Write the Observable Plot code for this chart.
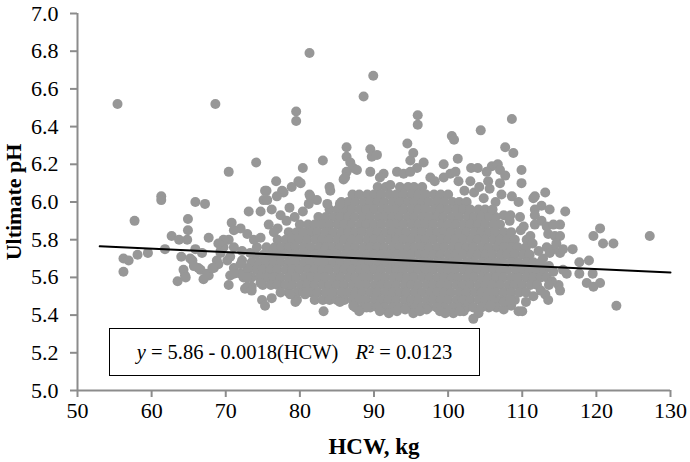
<!DOCTYPE html>
<html>
<head>
<meta charset="utf-8">
<script src="https://cdn.jsdelivr.net/npm/d3@7"></script>
<script src="https://cdn.jsdelivr.net/npm/@observablehq/plot@0.6"></script>
<style>
  body { margin: 0; background: #fff; }
  #wrap { position: relative; width: 690px; height: 462px; }
  #wrap svg text { font-family: "Liberation Serif", "Times New Roman", serif; }
  #eq {
    position: absolute; left: 109px; top: 328px; width: 371px; height: 48px;
    box-sizing: border-box; border: 1.5px solid #000; background: #fff;
    font-family: "Liberation Serif", "Times New Roman", serif; font-size: 20.5px;
    display: flex; align-items: center; justify-content: center; color: #000;
  }
  #eq .gap { display: inline-block; width: 17px; }
</style>
</head>
<body>
<div id="wrap"></div>
<script>
// Axis ticks
const hcwTicks = [50, 60, 70, 80, 90, 100, 110, 120, 130];
const phTicks = [5.0, 5.2, 5.4, 5.6, 5.8, 6.0, 6.2, 6.4, 6.6, 6.8, 7.0];

// Regression shown on the chart: y = 5.86 - 0.0018(HCW)
const fitIntercept = 5.86;
const fitSlope = -0.0018;
const fitHcw = [53, 130];
const eqText = "y = 5.86 - 0.0018(HCW)";
const r2Text = "R² = 0.0123";

// Dense core of the cloud, read row by row: [pH, HCW values...]
const coreRows = [
  [6.08, 90.5, 91.6, 93.5, 94.6, 95.4, 96.5],
  [6.04, 87.1, 88.0, 89.1, 90.0, 91.0, 92.1, 93.0, 94.0, 95.1, 96.0, 97.0, 98.1, 99.0, 100.0],
  [6.00, 85.6, 86.5, 87.5, 88.6, 89.5, 90.5, 91.4, 92.5, 93.5, 94.6, 95.5, 96.5, 97.4, 98.5, 99.5, 100.6, 101.5, 102.5],
  [5.96, 84.0, 85.1, 86.0, 87.0, 88.1, 89.0, 90.0, 91.1, 92.0, 93.0, 94.0, 95.1, 96.0, 97.0, 98.1, 99.0, 100.0, 101.1, 102.0, 103.0, 104.1, 105.0],
  [5.92, 82.5, 83.5, 84.6, 85.5, 86.5, 87.4, 88.5, 89.5, 90.6, 91.5, 92.5, 93.4, 94.5, 95.5, 96.6, 97.5, 98.5, 99.4, 100.5, 101.5, 102.6, 103.5, 104.5, 105.5, 106.4],
  [5.88, 80.0, 81.1, 82.0, 83.0, 84.0, 85.1, 86.0, 87.0, 88.1, 89.0, 90.0, 91.0, 92.1, 93.0, 94.0, 95.1, 96.0, 97.0, 98.0, 99.1, 100.0, 101.0, 102.1, 103.0, 104.0, 105.0, 106.1, 107.0],
  [5.84, 78.5, 79.6, 80.5, 81.5, 82.4, 83.5, 84.5, 85.6, 86.5, 87.5, 88.4, 89.5, 90.5, 91.6, 92.5, 93.5, 94.4, 95.5, 96.5, 97.6, 98.5, 99.5, 100.4, 101.5, 102.5, 103.6, 104.5, 105.5, 106.4, 107.5, 108.5],
  [5.80, 77.0, 78.1, 79.0, 80.0, 81.0, 82.1, 83.0, 84.0, 85.1, 86.0, 87.0, 88.0, 89.1, 90.0, 91.0, 92.1, 93.0, 94.0, 95.0, 96.1, 97.0, 98.0, 99.1, 100.0, 101.0, 102.0, 103.1, 104.0, 105.0, 106.1, 107.0, 108.0, 109.0],
  [5.76, 75.5, 76.6, 77.5, 78.5, 79.4, 80.5, 81.5, 82.6, 83.5, 84.5, 85.4, 86.5, 87.5, 88.6, 89.5, 90.5, 91.4, 92.5, 93.5, 94.6, 95.5, 96.5, 97.4, 98.5, 99.5, 100.6, 101.5, 102.5, 103.4, 104.5, 105.5, 106.6, 107.5, 108.5, 109.4, 110.5],
  [5.72, 74.0, 75.1, 76.0, 77.0, 78.0, 79.1, 80.0, 81.0, 82.1, 83.0, 84.0, 85.0, 86.1, 87.0, 88.0, 89.1, 90.0, 91.0, 92.0, 93.1, 94.0, 95.0, 96.1, 97.0, 98.0, 99.0, 100.1, 101.0, 102.0, 103.1, 104.0, 105.0, 106.0, 107.1, 108.0, 109.0, 110.1, 111.0],
  [5.68, 73.5, 74.6, 75.5, 76.5, 77.4, 78.5, 79.5, 80.6, 81.5, 82.5, 83.4, 84.5, 85.5, 86.6, 87.5, 88.5, 89.4, 90.5, 91.5, 92.6, 93.5, 94.5, 95.4, 96.5, 97.5, 98.6, 99.5, 100.5, 101.4, 102.5, 103.5, 104.6, 105.5, 106.5, 107.4, 108.5, 109.5, 110.6, 111.5, 112.5],
  [5.64, 73.0, 74.1, 75.0, 76.0, 77.0, 78.1, 79.0, 80.0, 81.1, 82.0, 83.0, 84.0, 85.1, 86.0, 87.0, 88.1, 89.0, 90.0, 91.0, 92.1, 93.0, 94.0, 95.1, 96.0, 97.0, 98.0, 99.1, 100.0, 101.0, 102.1, 103.0, 104.0, 105.0, 106.1, 107.0, 108.0, 109.1, 110.0, 111.0, 112.0, 113.0],
  [5.60, 73.5, 74.6, 75.5, 76.5, 77.4, 78.5, 79.5, 80.6, 81.5, 82.5, 83.4, 84.5, 85.5, 86.6, 87.5, 88.5, 89.4, 90.5, 91.5, 92.6, 93.5, 94.5, 95.4, 96.5, 97.5, 98.6, 99.5, 100.5, 101.4, 102.5, 103.5, 104.6, 105.5, 106.5, 107.4, 108.5, 109.5, 110.6, 111.5, 112.5],
  [5.56, 75.0, 76.1, 77.0, 78.0, 79.0, 80.1, 81.0, 82.0, 83.1, 84.0, 85.0, 86.0, 87.1, 88.0, 89.0, 90.1, 91.0, 92.0, 93.0, 94.1, 95.0, 96.0, 97.1, 98.0, 99.0, 100.0, 101.1, 102.0, 103.0, 104.1, 105.0, 106.0, 107.0, 108.1, 109.0, 110.0, 111.1, 112.0],
  [5.52, 78.5, 79.6, 80.5, 81.5, 82.4, 83.5, 84.5, 85.6, 86.5, 87.5, 88.4, 89.5, 90.5, 91.6, 92.5, 93.5, 94.4, 95.5, 96.5, 97.6, 98.5, 99.5, 100.4, 101.5, 102.5, 103.6, 104.5, 105.5, 106.4, 107.5, 108.5, 109.6, 110.5],
  [5.48, 82.0, 83.1, 84.0, 85.0, 86.0, 87.1, 88.0, 89.0, 90.1, 91.0, 92.0, 93.0, 94.1, 95.0, 96.0, 97.1, 98.0, 99.0, 100.0, 101.1, 102.0, 103.0, 104.1, 105.0, 106.0, 107.0, 108.1, 109.0],
  [5.44, 87.5, 88.6, 89.5, 90.5, 91.4, 92.5, 93.5, 94.6, 95.5, 96.5, 97.4, 98.5, 99.5, 100.6, 101.5, 102.5, 103.4, 104.5, 105.5, 106.5]
];

// High outliers: [HCW, pH]
const highPoints = [
  [55.4,6.52],[68.6,6.52],[81.3,6.79],[89.9,6.67],[88.6,6.56],[79.5,6.48],[79.5,6.43],[95.9,6.46],[95.9,6.41],
  [108.6,6.44],[104.4,6.38],[100.5,6.35],[100.8,6.33],[94.5,6.31],[86.3,6.29],[89.5,6.28],[89.7,6.24],[90.4,6.25],
  [107.7,6.29],[108.8,6.26]
];

// Upper fringe of the cloud: [HCW, pH]
const upperPoints = [
  [74.1,6.21],[83.1,6.22],[86.3,6.24],[86.8,6.21],[87.2,6.18],[95.3,6.26],[94.9,6.22],[95.8,6.18],[96.7,6.21],
  [99.4,6.20],[101.3,6.23],[109.9,6.17],[109.9,6.10],[113.1,6.05],[103.1,6.18],[104.0,6.18],[105.9,6.19],[106.7,6.20],
  [105.2,6.16],[107.0,6.17],[107.7,6.14],[107.0,6.10],[105.4,6.11],[100.3,6.15],[101.0,6.16],[93.1,6.16],[94.0,6.15],
  [94.9,6.16],[91.3,6.15],[90.8,6.13],[89.5,6.16],[86.3,6.16],[85.9,6.12],[87.7,6.17],[86.1,6.13],[80.4,6.18],
  [79.8,6.11],[80.1,6.10],[76.8,6.11],[84.0,6.08],[84.1,6.06],[81.3,6.04],[75.3,6.06],[77.6,6.06],[78.9,6.08],
  [77.8,6.05],[76.9,6.03],[75.1,6.01],[81.4,6.03],[82.3,6.01],[83.7,5.99],[85.4,5.99],[97.6,6.13],[99.4,6.13],
  [98.2,6.11],[101.4,6.11],[103.0,6.11],[102.2,6.06],[92.2,6.09],[111.7,6.03],[108.6,6.03],[109.5,6.00],[111.5,6.02],
  [112.6,5.98],[111.7,5.96],[113.7,5.96],[115.8,5.95],[111.7,5.93],[111.7,5.88],[112.6,5.90],[108.4,5.93],[109.7,5.92],
  [110.2,5.87],[111.1,5.82],[113.3,5.87],[114.2,5.88],[115.1,5.88],[113.5,5.83],[114.4,5.82],[115.1,5.82],
  [103.5,6.05],[104.8,6.02],[105.6,6.07],[106.4,6.00],[107.2,6.04],[106.0,5.96],[107.5,5.93],[108.3,5.90],[104.2,6.08],
  [76.2,5.96],[77.4,5.93],[78.6,5.97],[79.3,5.92],[80.4,5.95],[81.2,5.99],[75.8,5.88],[77.0,5.86],[78.2,5.90],[76.5,5.84]
];

// Right fringe: [HCW, pH]
const rightPoints = [
  [119.6,5.82],[120.5,5.86],[120.9,5.78],[122.3,5.78],[127.2,5.82],
  [116.8,5.75],[115.1,5.73],[114.2,5.75],[117.7,5.68],[119.0,5.69],[117.7,5.62],[119.5,5.62],[118.7,5.57],[119.6,5.55],
  [120.5,5.57],[122.7,5.45],[116.0,5.62],[115.5,5.64],[113.1,5.51],[113.5,5.48],[114.9,5.56],[115.1,5.53],[114.6,5.78],
  [113.3,5.76],[113.7,5.73],[115.5,5.75],[113.3,5.60],
  [109.8,5.85],[110.6,5.80],[111.4,5.78],[112.2,5.74],[112.8,5.70],[113.6,5.66],[114.2,5.63],[114.0,5.58],[113.6,5.56],
  [112.5,5.53],[111.5,5.50],[110.5,5.47],[108.5,5.45],[107.5,5.43]
];

// Lower fringe: [HCW, pH]
const lowerPoints = [
  [109.5,5.42],[110.0,5.42],[104.1,5.41],[103.4,5.38],[105.7,5.45],[107.5,5.47],[108.4,5.48],
  [85.4,5.47],[87.2,5.45],[89.0,5.44],[90.8,5.42],[93.1,5.42],[95.3,5.41],[97.1,5.43],[98.5,5.44],[98.9,5.42],
  [100.7,5.41],[102.1,5.42],[88.0,5.42],[92.0,5.41],[94.2,5.43],[96.2,5.42],[99.6,5.41],[101.6,5.42],[83.2,5.42],
  [79.6,5.48],[78.7,5.51],[79.4,5.47],[80.7,5.51],[77.4,5.52]
];

// Left fringe: [HCW, pH]
const leftPoints = [
  [56.2,5.70],[56.9,5.69],[56.2,5.63],[57.7,5.90],[58.1,5.72],[59.5,5.73],[61.3,6.03],[61.3,6.01],[61.8,5.75],
  [62.7,5.82],[63.5,5.58],[64.5,5.61],[63.7,5.80],[64.8,5.80],[64.0,5.71],[64.9,5.91],[64.9,5.85],[65.5,5.69],
  [65.9,6.00],[67.2,5.99],[65.9,5.75],[66.8,5.73],[66.3,5.65],[67.0,5.59],[67.7,5.61],[67.7,5.81],[70.4,6.16],
  [68.4,5.65],[68.8,5.69],[69.3,5.74],[69.7,5.79],[70.4,5.80],[70.4,5.56],[70.8,5.89],[72.0,5.86],[73.1,5.95],
  [74.7,5.95],[75.6,6.01],[75.5,6.06],[72.6,5.54],[73.5,5.55],[74.9,5.48],[76.2,5.49],[75.3,5.45],[64.3,5.64],
  [64.6,5.60],[66.6,5.64],[65.2,5.70],[65.7,5.66],[67.5,5.62],[72.9,5.55],[72.4,5.60],
  [69.3,5.73],[69.7,5.76],[69.0,5.67],[70.6,5.71],[71.1,5.65],[70.6,5.61],[72.0,5.62],[72.9,5.65],[72.2,5.69],
  [73.3,5.73],[74.2,5.76],[73.8,5.80],[74.7,5.81],[72.9,5.83],[71.1,5.85],[69.7,5.80],[69.0,5.78],[71.1,5.76],
  [72.2,5.74],[70.2,5.69],[72.0,5.67],[71.1,5.62],[72.9,5.60],[74.7,5.57],[73.5,5.53],[68.2,5.65]
];

// Build the table for Plot
const points = [
  ...coreRows.flatMap(([ph, ...xs]) => xs.map(hcw => ({hcw, ph}))),
  ...[...highPoints, ...upperPoints, ...rightPoints, ...lowerPoints, ...leftPoints].map(([hcw, ph]) => ({hcw, ph}))
];
const fitLine = fitHcw.map(hcw => ({hcw, ph: fitIntercept + fitSlope * hcw}));

const axisGray = "#8c8c8c";
const chart = Plot.plot({
  width: 690,
  height: 462,
  marginLeft: 77,
  marginRight: 20,
  marginTop: 13,
  marginBottom: 72,
  style: {fontFamily: "'Liberation Serif', 'Times New Roman', serif", fontSize: "22px", color: "#000", background: "#fff", overflow: "visible"},
  x: {domain: [50, 130]},
  y: {domain: [5, 7]},
  marks: [
    Plot.dot(points, {x: "hcw", y: "ph", r: 5, fill: "#979797", stroke: "none"}),
    Plot.line(fitLine, {x: "hcw", y: "ph", stroke: "#000", strokeWidth: 2}),
    Plot.ruleX([50], {stroke: axisGray, strokeWidth: 2}),
    Plot.ruleY([5], {stroke: axisGray, strokeWidth: 2}),
    Plot.axisX({ticks: hcwTicks, tickSize: 7, tickPadding: 5, stroke: axisGray, strokeWidth: 2, fill: "#000", label: null, tickFormat: d => d}),
    Plot.axisY({ticks: phTicks, tickSize: 7, tickPadding: 12, stroke: axisGray, strokeWidth: 2, fill: "#000", label: null, tickFormat: d3.format(".1f")}),
    Plot.text(["HCW, kg"], {frameAnchor: "bottom", dy: 56, textAnchor: "middle", lineAnchor: "middle", fontWeight: "bold", fontSize: 23, fill: "#000"}),
    Plot.text(["Ultimate pH"], {frameAnchor: "left", dx: -64, textAnchor: "middle", lineAnchor: "middle", rotate: -90, fontWeight: "bold", fontSize: 22, fill: "#000"})
  ]
});
const wrap = document.getElementById("wrap");
wrap.appendChild(chart);

const eq = document.createElement("div");
eq.id = "eq";
const [yPart, ...rest] = eqText.split(" ");
eq.innerHTML = `<span><i>${yPart}</i> ${rest.join(" ")}</span><span class="gap"></span><span><i>${r2Text[0]}</i>${r2Text.slice(1)}</span>`;
wrap.appendChild(eq);
</script>
</body>
</html>
